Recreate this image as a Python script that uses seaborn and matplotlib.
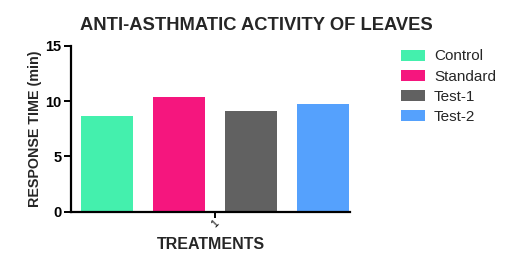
import matplotlib
matplotlib.use("Agg")
import matplotlib.pyplot as plt
import seaborn as sns
import pandas as pd
from matplotlib.patches import Patch

groups = ["Control", "Standard", "Test-1", "Test-2"]
values = [8.64, 10.36, 9.12, 9.73]
treatment = ["1", "1", "1", "1"]
colors = ["#44F0AD", "#F5167E", "#616161", "#55A1FD"]

sns.set_style("white")
plt.rcParams['font.family'] = ['Liberation Sans', 'DejaVu Sans']

df = pd.DataFrame({"Treatment": treatment, "Group": groups, "Value": values})
palette = dict(zip(groups, colors))

fig = plt.figure(figsize=(5.08, 2.71), dpi=100)
ax = fig.add_axes([71/508, 59.3/271, 279/508, 166/271])

sns.barplot(data=df, x="Treatment", y="Value", hue="Group", palette=palette,
            width=0.8, gap=0.29, saturation=1, legend=False, ax=ax,
            errorbar=None, linewidth=0)

ax.set_xlim(-0.4, 0.375)
ax.set_ylim(0, 15)
ax.set_yticks([0, 5, 10, 15])
ax.set_xticks([0])
ax.set_xticklabels(["1"], rotation=45, fontsize=7.5)
for s in ["top", "right"]:
    ax.spines[s].set_visible(False)
for s in ["left", "bottom"]:
    ax.spines[s].set_linewidth(1.6)
    ax.spines[s].set_color("black")
ax.tick_params(axis="both", direction="out", width=1.4, colors="black",
               left=True, bottom=True)
ax.tick_params(axis="y", length=5, pad=2, labelsize=10.5)
ax.tick_params(axis="x", length=4, pad=1)
for lab in ax.get_yticklabels():
    lab.set_fontweight("bold")
ax.set_xlabel("TREATMENTS", fontsize=11.5, fontweight="bold", labelpad=5)
ax.set_ylabel("RESPONSE TIME (min)", fontsize=10.3, fontweight="bold", labelpad=2.5)

fig.suptitle("ANTI-ASTHMATIC ACTIVITY OF LEAVES", x=256/508, y=1 - 16.5/271,
             fontsize=13.2, fontweight="bold", va="top")

handles = [Patch(facecolor=c, edgecolor="none") for c in colors]
fig.legend(handles, groups, loc="upper left", bbox_to_anchor=(401/508, 1 - 49.5/271),
           frameon=False, fontsize=11, handlelength=1.57, handleheight=0.72,
           handletextpad=0.59, labelspacing=0.4, borderpad=0, borderaxespad=0)

fig.savefig("out.png", dpi=100)
